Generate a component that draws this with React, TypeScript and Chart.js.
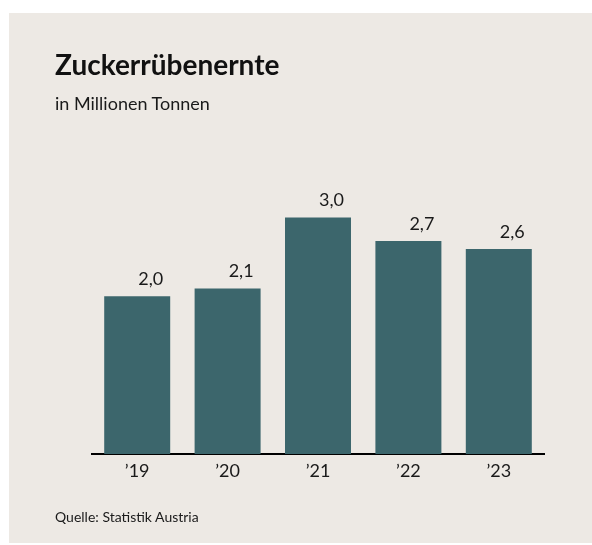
import React, { useEffect, useRef } from "react";
import { Chart, registerables } from "chart.js";

Chart.register(...registerables);

const categories = ["\u201919", "\u201920", "\u201921", "\u201922", "\u201923"];
const harvest = [2.0, 2.1, 3.0, 2.7, 2.6];
const valueLabels = ["2,0", "2,1", "3,0", "2,7", "2,6"];

const FONT = "Lato, 'Noto Sans', sans-serif";
const BAR_COLOR = "#3c666c";
const BG = "#ede9e4";

const labelPlugin = {
  id: "valueLabels",
  afterDatasetsDraw(chart: any) {
    const ctx = chart.ctx;
    const meta = chart.getDatasetMeta(0);
    ctx.save();
    ctx.font = `400 18px ${FONT}`;
    ctx.fillStyle = "#1a1a1a";
    ctx.textAlign = "right";
    ctx.textBaseline = "alphabetic";
    meta.data.forEach((bar: any, i: number) => {
      const right = bar.x + bar.width / 2 - 7;
      ctx.fillText(valueLabels[i], right, bar.y - 11);
    });
    ctx.restore();
  },
};

export default function App() {
  const ref = useRef<HTMLCanvasElement>(null);
  useEffect(() => {
    if (!ref.current) return;
    const chart = new Chart(ref.current, {
      type: "bar",
      data: {
        labels: categories,
        datasets: [
          {
            data: harvest,
            backgroundColor: BAR_COLOR,
            barPercentage: 0.73,
            categoryPercentage: 1,
          },
        ],
      },
      options: {
        animation: false,
        responsive: false,
        maintainAspectRatio: false,
        layout: { padding: { top: 178, left: 92, right: 48, bottom: 51 } },
        plugins: { legend: { display: false }, tooltip: { enabled: false }, title: { display: false } },
        scales: {
          y: { display: false, min: 0, max: 3.5 },
          x: {
            grid: { display: false, drawTicks: false },
            border: { display: true, color: "#000", width: 2 },
            ticks: { color: "#1a1a1a", font: { family: FONT, size: 18 }, padding: 6 },
            afterFit: (scale: any) => {
              scale.height = 40;
            },
          },
        },
      },
      plugins: [labelPlugin],
    });
    return () => chart.destroy();
  }, []);

  return (
    <div style={{ position: "fixed", left: 0, top: 0, width: 592, height: 545, background: "#fff", overflow: "hidden" }}>
      <div style={{ position: "absolute", left: 9, top: 13, width: 583, height: 530, background: BG }} />
      <canvas ref={ref} width={592} height={545} style={{ position: "absolute", left: 0, top: 0, width: 592, height: 545 }} />
      <div style={{ position: "absolute", left: 55, top: 50, fontFamily: FONT, fontWeight: 700, fontSize: 28, lineHeight: "28px", color: "#111", whiteSpace: "nowrap" }}>
        Zuckerrübenernte
      </div>
      <div style={{ position: "absolute", left: 55, top: 94, fontFamily: FONT, fontSize: 18, lineHeight: "18px", color: "#1a1a1a", whiteSpace: "nowrap" }}>
        in Millionen Tonnen
      </div>
      <div style={{ position: "absolute", left: 55, top: 510, fontFamily: FONT, fontSize: 14, lineHeight: "14px", color: "#1a1a1a", whiteSpace: "nowrap" }}>
        Quelle: Statistik Austria
      </div>
    </div>
  );
}
